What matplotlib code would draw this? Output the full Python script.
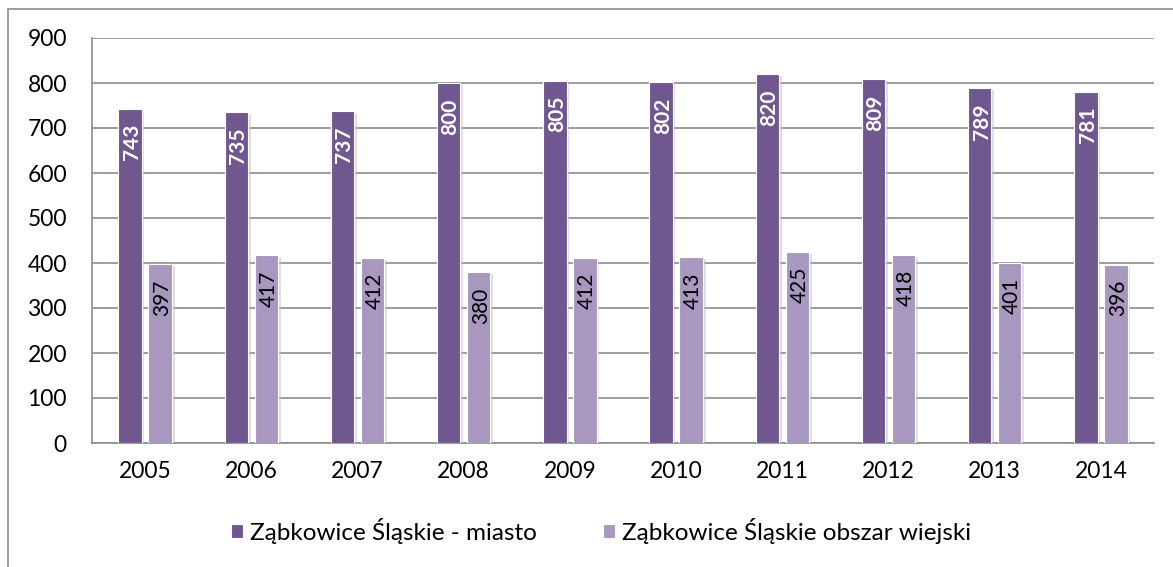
import matplotlib.pyplot as plt
import matplotlib.patheffects as pe
from matplotlib.patches import Rectangle
import numpy as np

years = ['2005', '2006', '2007', '2008', '2009', '2010', '2011', '2012', '2013', '2014']
miasto = [743, 735, 737, 800, 805, 802, 820, 809, 789, 781]
wies = [397, 417, 412, 380, 412, 413, 425, 418, 401, 396]
series_names = ['Ząbkowice Śląskie - miasto', 'Ząbkowice Śląskie obszar wiejski']

dark = '#70578f'
light = '#a898c0'

plt.rcParams['font.family'] = ['Lato', 'DejaVu Sans']

fig = plt.figure(figsize=(11.73, 5.67), dpi=100)
# outer frame of the chart area
fig.add_artist(Rectangle((8 / 1173, -0.01), 1.0, 1 - 9 / 567 + 0.01,
                         transform=fig.transFigure, fill=False,
                         edgecolor='#8c8c8c', linewidth=1.2))

ax = fig.add_axes([92 / 1173, 1 - 443 / 567, (1154 - 92) / 1173, (443 - 38) / 567])

x = np.arange(len(years))
w = 0.22
off = 0.142
shadow = [pe.SimplePatchShadow(offset=(2, -1.5), shadow_rgbFace='#c0c0c0', alpha=0.5), pe.Normal()]
b1 = ax.bar(x - off, miasto, w, color=dark, edgecolor='white', linewidth=0.8,
            label=series_names[0], zorder=3, path_effects=shadow)
b2 = ax.bar(x + off, wies, w, color=light, edgecolor='white', linewidth=0.8,
            label=series_names[1], zorder=3, path_effects=shadow)

# data labels, inside end of each bar
for xi, v in zip(x, miasto):
    ax.text(xi - off, v - 34, str(v), rotation=90, rotation_mode='anchor',
            ha='right', va='center_baseline', color='white', fontweight='bold',
            fontsize=15, zorder=4)
for xi, v in zip(x, wies):
    ax.text(xi + off, v - 34, str(v), rotation=90, rotation_mode='anchor',
            ha='right', va='center_baseline', color='black', fontsize=15, zorder=4)

ax.set_ylim(0, 900)
ax.set_xlim(-0.5, len(years) - 0.5)
ax.set_yticks(range(0, 901, 100))
ax.set_xticks(x)
ax.set_xticklabels(years)
ax.yaxis.grid(True, color='#8c8c8c', linewidth=1.2, zorder=0)
ax.set_axisbelow(True)
for s in ['top', 'right']:
    ax.spines[s].set_visible(False)
ax.spines['left'].set_color('#8c8c8c')
ax.spines['left'].set_linewidth(1.2)
ax.spines['bottom'].set_color('#8c8c8c')
ax.spines['bottom'].set_linewidth(1.2)
ax.tick_params(axis='both', length=0, labelsize=16.5, colors='black')
ax.tick_params(axis='y', pad=18)
ax.tick_params(axis='x', pad=13)

leg = fig.legend(handles=[b1, b2], loc='center', bbox_to_anchor=(601 / 1173, 1 - 531 / 567),
                 ncol=2, frameon=False, fontsize=17.5, handlelength=0.5, handleheight=0.5,
                 handletextpad=0.3, columnspacing=2.7)
for h in leg.legend_handles:
    h.set_path_effects([])

fig.savefig('out.png', dpi=100)
